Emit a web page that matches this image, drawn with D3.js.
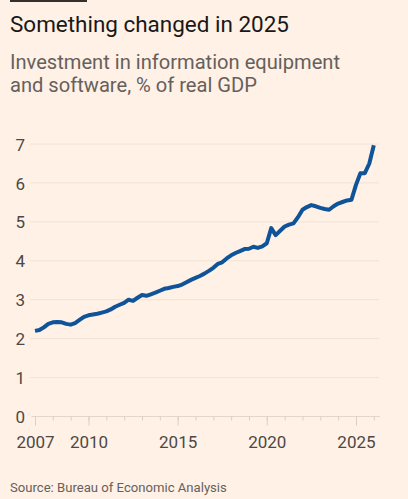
<!DOCTYPE html>
<html>
<head>
<meta charset="utf-8">
<script src="https://cdn.jsdelivr.net/npm/d3@7"></script>
<style>
  html, body { margin: 0; padding: 0; background: #fff1e5; }
  svg { display: block; }
</style>
</head>
<body>
<svg id="chart" width="408" height="499"></svg>
<script>
// ---- Data ----
const title = "Something changed in 2025";
const subtitleLines = ["Investment in information equipment", "and software, % of real GDP"];
const source = "Source: Bureau of Economic Analysis";

const firstQuarter = "2007Q1";
const values = [
  2.20, 2.22, 2.29, 2.38, 2.42, 2.43, 2.42, 2.38, 2.36, 2.40, 2.48, 2.56,
  2.60, 2.62, 2.64, 2.67, 2.70, 2.75, 2.82, 2.87, 2.92, 3.00, 2.97, 3.05,
  3.12, 3.10, 3.14, 3.18, 3.23, 3.28, 3.30, 3.33, 3.35, 3.39, 3.45, 3.51,
  3.56, 3.61, 3.67, 3.74, 3.82, 3.92, 3.96, 4.06, 4.14, 4.20, 4.25, 4.30,
  4.31, 4.36, 4.33, 4.37, 4.45, 4.84, 4.66, 4.77, 4.88, 4.93, 4.96, 5.12,
  5.31, 5.38, 5.43, 5.40, 5.36, 5.33, 5.31, 5.40, 5.47, 5.51, 5.55, 5.57,
  5.95, 6.25, 6.25, 6.50, 6.97
];
const yTicks = [0, 1, 2, 3, 4, 5, 6, 7];
const xLabelYears = [2007, 2010, 2015, 2020, 2025];
const xTickYears = d3.range(2007, 2027);

// quarter labels (category axis) derived from the first quarter
const startYear = +firstQuarter.slice(0, 4);
const quarters = values.map((v, i) => {
  const yr = startYear + Math.floor(i / 4);
  const q = (i % 4) + 1;
  return { label: yr + "Q" + q, date: new Date(yr, (q - 1) * 3, 1), value: v };
});

// ---- Drawing ----
const svg = d3.select("#chart");
const W = 408, H = 499;
const bg = "#fff1e5";
const FONT = "Roboto, 'Liberation Sans', sans-serif";

svg.append("rect").attr("width", W).attr("height", H).attr("fill", bg);

// top bar
svg.append("rect").attr("x", 10).attr("y", 0).attr("width", 77).attr("height", 2).attr("fill", "#33302e");

function fitText(sel, targetWidth, baseSize) {
  sel.attr("font-size", baseSize);
  const w = sel.node().getComputedTextLength();
  if (w > 0) sel.attr("font-size", (baseSize * targetWidth / w).toFixed(2));
}

const t = svg.append("text").attr("x", 10).attr("y", 32)
  .attr("font-family", FONT).attr("fill", "#1a1817").text(title);
fitText(t, 279, 22);

// subtitle: one text element, two lines
const sub = svg.append("text").attr("x", 10).attr("y", 69)
  .attr("font-family", FONT).attr("fill", "#66605c").text(subtitleLines[0]);
fitText(sub, 330, 19);
sub.text(null);
sub.selectAll("tspan").data(subtitleLines).join("tspan")
  .attr("x", 10)
  .attr("y", (d, i) => 69 + i * 23)
  .text(d => d);

const src = svg.append("text").attr("x", 10).attr("y", 491.5)
  .attr("font-family", FONT).attr("fill", "#66605c").text(source);
fitText(src, 217, 14.5);

// scales
const x = d3.scaleTime()
  .domain([new Date(2007, 0, 1), new Date(2026, 0, 1)])
  .range([35, 373.8]);
const y = d3.scaleLinear().domain([0, 7]).range([416.5, 144]);

// y labels
const yAxis = d3.axisLeft(y).tickValues(yTicks).tickSize(0).tickPadding(0).tickFormat(d3.format("d"));
const gy = svg.append("g").attr("transform", "translate(25,0)").call(yAxis);
gy.select(".domain").remove();
gy.selectAll("text").attr("font-family", FONT).attr("font-size", 17).attr("fill", "#4d4845").attr("dy", "0.36em");

// gridlines
svg.append("g").selectAll("line").data(yTicks.filter(d => d > 0)).join("line")
  .attr("x1", 30).attr("x2", 379)
  .attr("y1", d => y(d)).attr("y2", d => y(d))
  .attr("stroke", "#f3e2d4").attr("stroke-width", 1);

// x axis baseline
svg.append("line").attr("x1", 31.5).attr("x2", 380)
  .attr("y1", y(0)).attr("y2", y(0))
  .attr("stroke", "#e3d6cb").attr("stroke-width", 1);

// minor ticks
const minor = d3.axisBottom(x).tickValues(xTickYears.map(yr => new Date(yr, 0, 1)))
  .tickSize(4).tickFormat("");
const gmin = svg.append("g").attr("transform", `translate(0,${y(0)})`).call(minor);
gmin.select(".domain").remove();
gmin.selectAll("line").attr("stroke", "#dccfc4");

// major ticks + labels
const major = d3.axisBottom(x).tickValues(xLabelYears.map(yr => new Date(yr, 0, 1)))
  .tickSize(9).tickPadding(10).tickFormat(d3.timeFormat("%Y"));
const gmaj = svg.append("g").attr("transform", `translate(0,${y(0)})`).call(major);
gmaj.select(".domain").remove();
gmaj.selectAll("line").attr("stroke", "#dccfc4");
gmaj.selectAll("text").attr("font-family", FONT).attr("font-size", 17).attr("fill", "#4d4845");

// line
const line = d3.line().x(d => x(d.date)).y(d => y(d.value));
svg.append("path").datum(quarters)
  .attr("d", line)
  .attr("fill", "none")
  .attr("stroke", "#0f5499")
  .attr("stroke-width", 4)
  .attr("stroke-linejoin", "round")
  .attr("stroke-linecap", "butt");
</script>
</body>
</html>
